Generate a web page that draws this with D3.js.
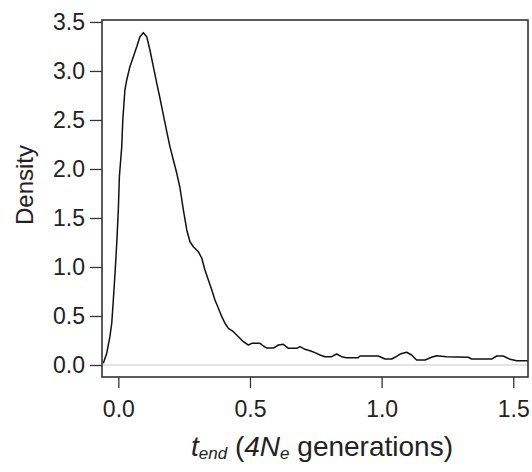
<!DOCTYPE html>
<html>
<head>
<meta charset="utf-8">
<script src="https://cdn.jsdelivr.net/npm/d3@7"></script>
<style>
  html, body { margin: 0; padding: 0; background: #fff; }
  svg { display: block; }
  text { font-family: "Liberation Sans", Arial, Helvetica, sans-serif; fill: #222; }
</style>
</head>
<body>
<svg id="chart" width="532" height="472"></svg>
<script>
// ---- data ----
const tEnd = [-0.057,-0.044,-0.032,-0.025,-0.019,-0.0125,-0.006,0.000,0.004,0.013,0.017,0.025,0.032,0.044,0.057,0.070,0.082,0.095,0.108,0.120,0.133,0.146,0.158,0.171,0.184,0.196,0.209,0.222,0.234,0.247,0.260,0.272,0.285,0.304,0.317,0.329,0.342,0.355,0.367,0.380,0.393,0.405,0.418,0.437,0.456,0.475,0.494,0.507,0.538,0.551,0.564,0.589,0.608,0.627,0.646,0.678,0.690,0.709,0.728,0.747,0.766,0.785,0.810,0.829,0.848,0.867,0.911,0.918,0.987,1.013,1.038,1.051,1.070,1.095,1.114,1.133,1.165,1.190,1.209,1.247,1.329,1.342,1.418,1.437,1.462,1.488,1.513,1.551,1.580];
const density = [0.017,0.119,0.289,0.426,0.663,0.936,1.242,1.582,1.921,2.228,2.500,2.806,2.908,3.044,3.146,3.248,3.350,3.391,3.350,3.214,3.044,2.874,2.724,2.551,2.381,2.228,2.092,1.956,1.811,1.582,1.378,1.258,1.207,1.156,1.089,0.969,0.867,0.765,0.663,0.579,0.493,0.426,0.374,0.340,0.289,0.238,0.204,0.221,0.221,0.194,0.173,0.173,0.204,0.211,0.170,0.170,0.187,0.160,0.146,0.126,0.102,0.085,0.085,0.112,0.085,0.074,0.074,0.092,0.092,0.061,0.061,0.079,0.112,0.130,0.102,0.051,0.051,0.079,0.095,0.085,0.079,0.061,0.061,0.092,0.092,0.058,0.044,0.044,0.044];
const xTicks = [0, 0.5, 1.0, 1.5];
const yTicks = [0, 0.5, 1.0, 1.5, 2.0, 2.5, 3.0, 3.5];
const xDomain = [-0.062, 1.556];
const yDomain = [-0.1224, 3.520];

// ---- layout ----
const svg = d3.select("#chart");
const pL = 102, pT = 20, pR = 528, pB = 377;

const x = d3.scaleLinear().domain(xDomain).range([pL, pR]);
const y = d3.scaleLinear().domain(yDomain).range([pB, pT]);

// clip
svg.append("clipPath").attr("id", "plotclip")
  .append("rect").attr("x", pL).attr("y", pT)
  .attr("width", pR - pL).attr("height", pB - pT);

// zero reference line
svg.append("line")
  .attr("x1", pL).attr("x2", pR)
  .attr("y1", y(0)).attr("y2", y(0))
  .attr("stroke", "#c8c8c8").attr("stroke-width", 1.2);

// density curve
const pts = tEnd.map((t, i) => [t, density[i]]);
svg.append("path")
  .datum(pts)
  .attr("clip-path", "url(#plotclip)")
  .attr("fill", "none")
  .attr("stroke", "#111")
  .attr("stroke-width", 1.5)
  .attr("stroke-linejoin", "round")
  .attr("d", d3.line().x(d => x(d[0])).y(d => y(d[1])));

// box
svg.append("rect")
  .attr("x", pL).attr("y", pT)
  .attr("width", pR - pL).attr("height", pB - pT)
  .attr("fill", "none").attr("stroke", "#333").attr("stroke-width", 1.6);

// axes
const xAxis = d3.axisBottom(x).tickValues(xTicks)
  .tickFormat(d3.format(".1f")).tickSize(11).tickPadding(13);
const gx = svg.append("g").attr("transform", `translate(0,${pB})`).call(xAxis);

const yAxis = d3.axisLeft(y).tickValues(yTicks)
  .tickFormat(d3.format(".1f")).tickSize(12).tickPadding(5);
const gy = svg.append("g").attr("transform", `translate(${pL},0)`).call(yAxis);

[gx, gy].forEach(g => {
  g.select(".domain").remove();
  g.selectAll(".tick line").attr("stroke", "#333").attr("stroke-width", 1.3);
  g.selectAll(".tick text")
    .style("font-family", '"Liberation Sans", Arial, sans-serif')
    .style("font-size", "23px").attr("fill", "#222");
});

// y label
svg.append("text")
  .attr("transform", "translate(33,185) rotate(-90)")
  .attr("text-anchor", "middle")
  .style("font-size", "24px")
  .text("Density");

// x label
const xl = svg.append("text")
  .attr("x", 322).attr("y", 456)
  .attr("text-anchor", "middle")
  .style("font-size", "28px");
xl.append("tspan").style("font-style", "italic").text("t");
xl.append("tspan").style("font-style", "italic").style("font-size", "17px").attr("dy", 3).text("end");
xl.append("tspan").attr("dy", -3).text(" (");
xl.append("tspan").style("font-style", "italic").text("4N");
xl.append("tspan").style("font-style", "italic").style("font-size", "17px").attr("dy", 3).text("e");
xl.append("tspan").attr("dy", -3).text(" generations)");
</script>
</body>
</html>
